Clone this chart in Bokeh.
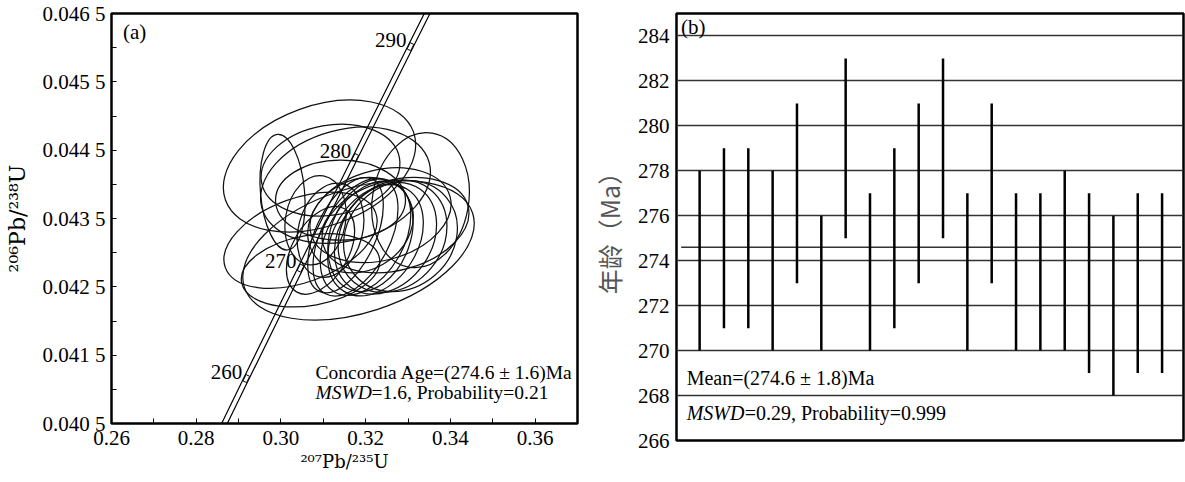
from bokeh.plotting import figure
from bokeh.layouts import row
from bokeh.models import FixedTicker, Range1d, Label, ColumnDataSource
from bokeh.embed import file_html
from bokeh.resources import INLINE
from bokeh.core.properties import value

# ---------------- panel (a): concordia diagram ----------------
# error ellipses (centre, width along x, height along y, rotation in degrees)
ell_x = [0.30910, 0.31170, 0.30037, 0.33295, 0.31831, 0.30462, 0.30698, 0.31406,
         0.32350, 0.31524, 0.31760, 0.31996, 0.32232, 0.32468, 0.32634, 0.32822,
         0.32114, 0.31170, 0.30816, 0.31878, 0.32704, 0.30934, 0.31524]
ell_y = [0.044267, 0.044208, 0.043885, 0.043768, 0.043035, 0.043182, 0.042742, 0.043768,
         0.043548, 0.043255, 0.043226, 0.043211, 0.043182, 0.043211, 0.043241, 0.043241,
         0.043255, 0.043329, 0.043475, 0.043402, 0.043402, 0.043035, 0.043988]
ell_w = [0.04721, 0.03305, 0.02738, 0.03211, 0.05666, 0.03777, 0.03305, 0.03069,
         0.03399, 0.02927, 0.03022, 0.02927, 0.02833, 0.02833, 0.02833, 0.02833,
         0.02738, 0.02266, 0.02125, 0.02597, 0.03541, 0.02266, 0.04093]
ell_h = [0.001759, 0.001319, 0.000645, 0.001407, 0.001817, 0.001231, 0.001026, 0.001172,
         0.001319, 0.000879, 0.000997, 0.001114, 0.001231, 0.001348, 0.001466, 0.001524,
         0.001172, 0.000938, 0.000879, 0.001319, 0.001319, 0.000821, 0.001624]
ell_angle = [20, 10, 95, 80, 18, 20, 10, 0,
             15, 65, 62, 60, 58, 55, 50, 40,
             70, 75, 80, 30, 15, 60, 15]

# concordia curve points (age in Ma)
conc_age = [255, 260, 270, 280, 290, 295]
conc_x = [0.285486, 0.291831, 0.304617, 0.317529, 0.330568, 0.337137]
conc_y = [0.040350, 0.041157, 0.042773, 0.044392, 0.046014, 0.046825]
mark_label = ["260", "270", "280", "290"]
mark_x = [0.291831, 0.304617, 0.317529, 0.330568]
mark_y = [0.041157, 0.042773, 0.044392, 0.046014]

x_ticks = [0.26, 0.28, 0.30, 0.32, 0.34, 0.36]
x_minor = [0.27, 0.29, 0.31, 0.33, 0.35, 0.37]
x_tick_labels = ["0.26", "0.28", "0.30", "0.32", "0.34", "0.36"]
y_ticks = [0.0405, 0.0415, 0.0425, 0.0435, 0.0445, 0.0455, 0.0465]
y_minor = [0.0410, 0.0420, 0.0430, 0.0440, 0.0450, 0.0460]
y_tick_labels = ["0.040 5", "0.041 5", "0.042 5", "0.043 5", "0.044 5", "0.045 5", "0.046 5"]

# ---------------- panel (b): weighted mean ages ----------------
spot = list(range(1, 21))
age_low = [270, 271, 271, 270, 273, 270, 275, 270, 271, 273,
           275, 270, 273, 270, 270, 270, 269, 268, 269, 269]
age_high = [278, 279, 279, 278, 281, 276, 283, 277, 279, 281,
            283, 277, 281, 277, 277, 278, 277, 276, 277, 277]
mean_age = 274.6
b_ticks = [266, 268, 270, 272, 274, 276, 278, 280, 282, 284]

SERIF = "Liberation Serif"

# ---------- figure (a) ----------
p1 = figure(frame_width=466, frame_height=410, min_border_left=111, min_border_right=10,
            min_border_top=13, min_border_bottom=59,
            x_range=Range1d(0.26, 0.37), y_range=Range1d(0.0405, 0.0465),
            output_backend="svg", toolbar_location=None, tools="")
p1.background_fill_color = "white"
p1.border_fill_color = "white"
p1.outline_line_color = "black"
p1.outline_line_width = 2.5
p1.xgrid.visible = False
p1.ygrid.visible = False

for axes in (p1.xaxis, p1.yaxis):
    axes.axis_line_color = None
    axes.major_tick_in = 5
    axes.major_tick_out = 0
    axes.minor_tick_in = 5
    axes.minor_tick_out = 0
    axes.major_tick_line_color = "black"
    axes.minor_tick_line_color = "black"
    axes.major_label_text_color = "black"
    axes.major_label_text_font = SERIF
    axes.major_label_text_font_size = "21px"
    axes.major_label_text_font_style = "normal"
    axes.axis_label_text_font_style = "normal"
    axes.axis_label_text_color = "black"

p1.xaxis.ticker = FixedTicker(ticks=x_ticks, minor_ticks=x_minor)
p1.xaxis.major_label_overrides = dict(zip(x_ticks, x_tick_labels))
p1.yaxis.ticker = FixedTicker(ticks=y_ticks, minor_ticks=y_minor)
p1.yaxis.major_label_overrides = dict(zip(y_ticks, y_tick_labels))
p1.xaxis.major_label_standoff = 7
p1.yaxis.major_label_standoff = 6

p1.xaxis.axis_label = "²⁰⁷Pb/²³⁵U"
p1.yaxis.axis_label = "²⁰⁶Pb/²³⁸U"
p1.xaxis.axis_label_text_font = "DejaVu Serif"
p1.yaxis.axis_label_text_font = "DejaVu Serif"
p1.xaxis.axis_label_text_font_size = "18px"
p1.yaxis.axis_label_text_font_size = "22px"
p1.xaxis.axis_label_standoff = 3
p1.yaxis.axis_label_standoff = 10

# concordia band (two parallel lines)
band = 0.00067
p1.line([x - band for x in conc_x], conc_y, line_color="black", line_width=1.2)
p1.line([x + band for x in conc_x], conc_y, line_color="black", line_width=1.2)
p1.rect(x=mark_x, y=mark_y, width=7, height=4, width_units="screen", height_units="screen",
        angle=63.6, angle_units="deg", fill_color="white", line_color="black", line_width=1)
p1.text(x=mark_x, y=mark_y, text=mark_label, x_offset=-4, y_offset=-7, text_align="right",
        text_baseline="middle", text_font=value(SERIF), text_font_size="21px",
        text_color="black")

# error ellipses
esrc = ColumnDataSource(dict(x=ell_x, y=ell_y, w=ell_w, h=ell_h, a=ell_angle))
p1.ellipse(x="x", y="y", width="w", height="h", angle="a", angle_units="deg", source=esrc,
           fill_color=None, line_color="#111111", line_width=1.25)


def lab(fig, x, y, text, size, style="normal"):
    fig.add_layout(Label(x=x, y=y, text=text, text_font=SERIF, text_font_size=size,
                         text_font_style=style, text_baseline="middle", text_align="left",
                         text_color="black"))


lab(p1, 0.26271, 0.046230, "(a)", "21px")
lab(p1, 0.30816, 0.041240, "Concordia Age=(274.6 ± 1.6)Ma", "19.5px")
lab(p1, 0.30816, 0.040948, "MSWD", "19.5px", style="italic")
lab(p1, 0.30816 + 56 / 4236, 0.040948, "=1.6, Probability=0.21", "19.5px")

# ---------- figure (b) ----------
p2 = figure(frame_width=507, frame_height=427, min_border_left=81, min_border_right=10,
            min_border_top=13, min_border_bottom=42,
            x_range=Range1d(0.05, 20.88), y_range=Range1d(266, 285),
            output_backend="svg", toolbar_location=None, tools="")
p2.background_fill_color = "white"
p2.border_fill_color = "white"
p2.outline_line_color = "black"
p2.outline_line_width = 2.5
p2.xaxis.visible = False
p2.xgrid.visible = False
p2.yaxis.ticker = FixedTicker(ticks=b_ticks)
p2.ygrid.grid_line_color = "#333333"
p2.ygrid.grid_line_width = 1.4
p2.yaxis.axis_line_color = None
p2.yaxis.major_tick_in = 0
p2.yaxis.major_tick_out = 0
p2.yaxis.minor_tick_line_color = None
p2.yaxis.major_label_standoff = 7
p2.yaxis.major_label_text_font = SERIF
p2.yaxis.major_label_text_font_style = "normal"
p2.yaxis.major_label_text_font_size = "21px"
p2.yaxis.major_label_text_color = "black"
p2.yaxis.axis_label = "年龄（Ma）"
p2.yaxis.axis_label_text_font = "Noto Sans CJK SC"
p2.yaxis.axis_label_text_font_size = "25px"
p2.yaxis.axis_label_text_font_style = "normal"
p2.yaxis.axis_label_text_color = "#555555"
p2.yaxis.axis_label_standoff = 8

p2.segment(x0=0.24, x1=20.78, y0=mean_age, y1=mean_age, line_color="#333333", line_width=1.4)
p2.segment(x0=spot, x1=spot, y0=age_low, y1=age_high, line_color="black", line_width=2.5)

lab(p2, 0.235, 284.42, "(b)", "21px")
lab(p2, 0.466, 268.80, "Mean=(274.6 ± 1.8)Ma", "20px")
lab(p2, 0.466, 267.24, "MSWD", "20px", style="italic")
lab(p2, 0.466 + 58 / 24.33, 267.24, "=0.29, Probability=0.999", "20px")

layout = row(p1, p2)
open("out.html", "w").write(file_html(layout, INLINE))
